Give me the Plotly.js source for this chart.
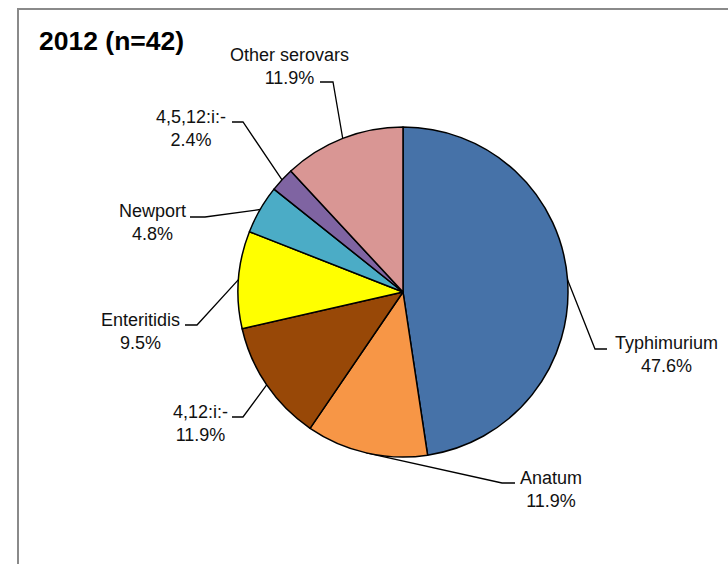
<!DOCTYPE html>
<html>
<head>
<meta charset="utf-8">
<script src="https://cdn.plot.ly/plotly-3.0.1.min.js"></script>
<style>html,body{margin:0;padding:0;background:#fff}#chart{width:728px;height:564px}</style>
</head>
<body>
<div id="chart"></div>
<script>
// ---- data ----
const categories = ['Typhimurium', 'Anatum', '4,12:i:-', 'Enteritidis', 'Newport', '4,5,12:i:-', 'Other serovars'];
const counts = [20, 5, 5, 4, 2, 1, 5];
const sliceColors = ['#4672A8', '#F79646', '#984807', '#FFFF00', '#4BACC6', '#7F64A2', '#D99694'];
const chartTitle = '2012 (n=42)';

// ---- label layout (pixel positions of leader elbow, leader end, text centre) ----
const elbowX = [595, 502, 243, 197, 205, 243, 333];
const elbowY = [349, 483, 417, 325, 217, 122, 82];
const leaderEndX = [607, 515, 232, 185, 190, 232, 320];
const textX = [666, 551, 200, 140, 152, 191, 289];
const textY = [354, 489, 423, 331, 222, 128, 66];

const W = 728, H = 564;
const cx = 403, cy = 292, R = 165;
const total = counts.reduce((a, b) => a + b, 0);
const pcts = counts.map(c => (c / total * 100).toFixed(1) + '%');

// leader lines: start at slice mid-angle on pie edge
const lx = [], ly = [];
let cum = 0;
counts.forEach((c, i) => {
  const mid = (cum + c / 2) / total * 2 * Math.PI;
  cum += c;
  const sx = cx + R * Math.sin(mid), sy = cy - R * Math.cos(mid);
  lx.push(sx, elbowX[i], leaderEndX[i], null);
  ly.push(sy, elbowY[i], elbowY[i], null);
});

const pie = {
  type: 'pie',
  labels: categories,
  values: counts,
  sort: false,
  direction: 'clockwise',
  rotation: 0,
  textinfo: 'none',
  hoverinfo: 'label+percent',
  marker: { colors: sliceColors, line: { color: '#000', width: 1.5 } },
  domain: { x: [(cx - R) / W, (cx + R) / W], y: [(H - cy - R) / H, (H - cy + R) / H] },
  showlegend: false
};

const leaders = {
  type: 'scatter', mode: 'lines', x: lx, y: ly,
  line: { color: '#000', width: 1.3 }, hoverinfo: 'skip', showlegend: false,
  xaxis: 'x', yaxis: 'y'
};

const annotations = categories.map((c, i) => ({
  x: textX[i], y: textY[i], xref: 'x', yref: 'y',
  text: c + '<br>' + pcts[i], showarrow: false, align: 'center',
  xanchor: 'center', yanchor: 'middle',
  font: { family: 'Liberation Sans, Arial, sans-serif', size: 18, color: '#111' }
}));

const layout = {
  width: W, height: H,
  margin: { l: 0, r: 0, t: 0, b: 0, pad: 0 },
  paper_bgcolor: '#fff', plot_bgcolor: 'rgba(0,0,0,0)',
  title: {
    text: '<b>' + chartTitle + '</b>',
    font: { family: 'Liberation Sans, Arial, sans-serif', size: 26.5, color: '#000' },
    x: 39 / W, xanchor: 'left', xref: 'paper',
    y: 1 - 41 / H, yanchor: 'middle', yref: 'container'
  },
  xaxis: { range: [0, W], visible: false, fixedrange: true },
  yaxis: { range: [H, 0], visible: false, fixedrange: true },
  annotations: annotations,
  shapes: [{
    type: 'rect', xref: 'x', yref: 'y', x0: 18, y0: 9, x1: W + 20, y1: H + 20,
    line: { color: '#8a8a8a', width: 2 }, fillcolor: 'rgba(0,0,0,0)', layer: 'below'
  }]
};

Plotly.newPlot('chart', [pie, leaders], layout, { displayModeBar: false, staticPlot: true });
</script>
</body>
</html>
